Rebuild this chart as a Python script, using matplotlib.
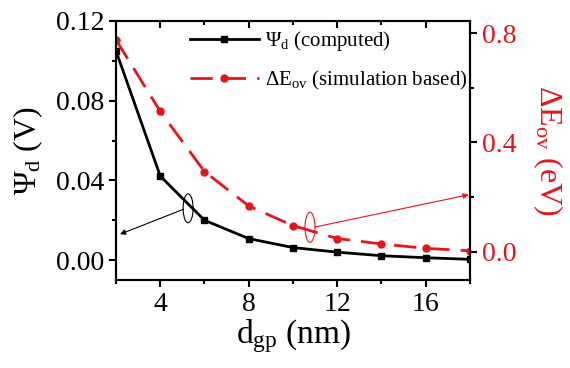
import matplotlib
matplotlib.use("Agg")
import matplotlib.pyplot as plt
from matplotlib.patches import Ellipse
from matplotlib.ticker import MultipleLocator

plt.rcParams["font.family"] = "Liberation Serif"
plt.rcParams["mathtext.fontset"] = "custom"
plt.rcParams["mathtext.rm"] = "Liberation Serif"
plt.rcParams["mathtext.it"] = "Liberation Serif:italic"

# Data
d_gp = [2, 4, 6, 8, 10, 12, 14, 16, 18]
psi_d = [0.105, 0.0422, 0.020, 0.0108, 0.0063, 0.0040, 0.0022, 0.0012, 0.0004]
delta_e = [0.775, 0.513, 0.293, 0.167, 0.095, 0.048, 0.028, 0.012, 0.003]

red = "#e8141c"

fig = plt.figure(figsize=(5.7, 3.68), dpi=100)
ax = fig.add_axes([0.2035, 0.239, 0.621, 0.704])
ax2 = ax.twinx()

l1, = ax.plot(d_gp, psi_d, color="black", lw=2, marker="s", ms=5,
              label=r"$\Psi_{\rm d}$ (computed)")
l2, = ax2.plot(d_gp, delta_e, color=red, lw=2, marker="o", ms=5,
               dashes=(8, 4), label=r"$\Delta$E$_{\rm ov}$ (simulation based)")

ax.set_xlim(2, 18)
ax.set_ylim(-0.01, 0.12)
ax2.set_ylim(-0.104, 0.844)

ax.xaxis.set_minor_locator(MultipleLocator(2))
ax.yaxis.set_minor_locator(MultipleLocator(0.02))
ax2.yaxis.set_minor_locator(MultipleLocator(0.2))
ax.set_xticks([4, 8, 12, 16])
ax.set_yticks([0.0, 0.04, 0.08, 0.12])
ax.set_yticklabels(["0.00", "0.04", "0.08", "0.12"])
ax2.set_yticks([0.0, 0.4, 0.8])

ax.tick_params(axis="both", which="major", direction="out", length=5, width=1.5,
               labelsize=20, top=False, right=False)
ax.tick_params(axis="both", which="minor", direction="out", length=3, width=1.5,
               top=False, right=False)
ax.tick_params(axis="x", which="both", top=True, direction="out")
ax2.tick_params(axis="y", which="major", direction="out", length=5, width=1.5,
                labelsize=20, labelcolor=red)
ax2.tick_params(axis="y", which="minor", direction="out", length=3, width=1.5)
# top ticks point inward
for t in ax.xaxis.get_major_ticks() + ax.xaxis.get_minor_ticks():
    t.tick2line.set_marker(3)

for a in (ax, ax2):
    for s in a.spines.values():
        s.set_linewidth(1.5)

ax.set_xlabel(r"d$_{\rm gp}$ (nm)", fontsize=24, labelpad=0)
ax.set_ylabel(r"$\Psi_{\rm d}$ (V)", fontsize=23, labelpad=8)
ax2.set_ylabel(r"$\Delta$E$_{\rm ov}$ (eV)", fontsize=23, color=red,
               rotation=270, labelpad=35)

ax.legend(handles=[l1, l2], loc="upper left", bbox_to_anchor=(0.185, 1.0),
          frameon=False, fontsize=15, handlelength=3.3, handletextpad=0.3,
          labelspacing=0.75, borderaxespad=0)

# ellipses and arrows
ax.add_patch(Ellipse((5.26, 0.026), 0.45, 0.0145, fill=False, ec="black", lw=0.8))
ax.annotate("", xy=(2.18, 0.013), xytext=(5.05, 0.0255),
            arrowprops=dict(arrowstyle="-|>", color="black", lw=0.8,
                            mutation_scale=8, shrinkA=0, shrinkB=0))
ax2.add_patch(Ellipse((10.77, 0.089), 0.45, 0.11, fill=False, ec=red, lw=0.8))
ax2.annotate("", xy=(17.94, 0.208), xytext=(10.99, 0.09),
             arrowprops=dict(arrowstyle="-|>", color=red, lw=0.8,
                             mutation_scale=8, shrinkA=0, shrinkB=0))

fig.savefig("out.png", dpi=100)
